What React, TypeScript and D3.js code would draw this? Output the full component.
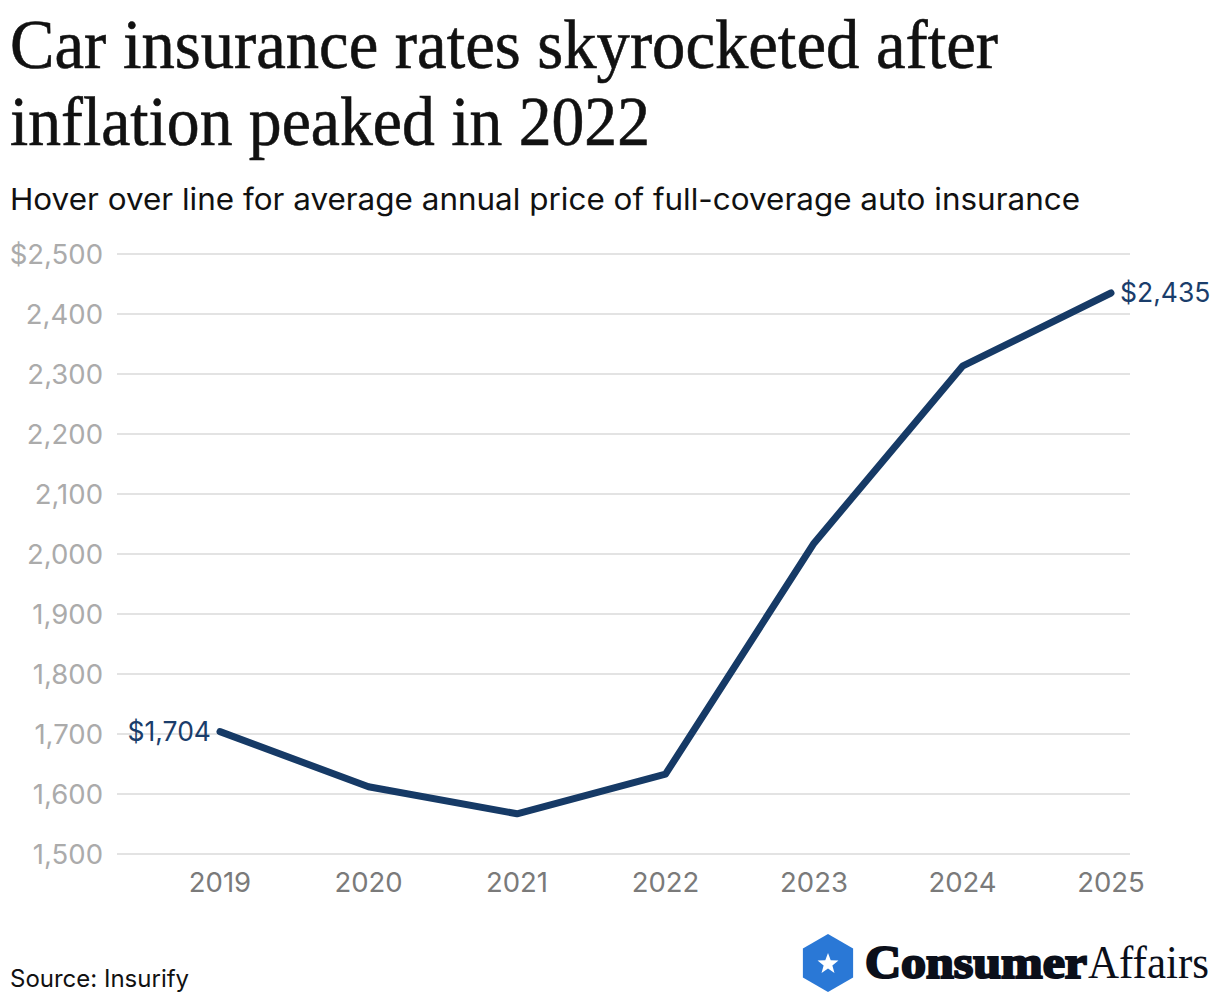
import React from "react";
import * as d3 from "d3";

const years = [2019, 2020, 2021, 2022, 2023, 2024, 2025];
const prices = [1704, 1612, 1567, 1633, 2018, 2313, 2435];
const yTicks = [1500, 1600, 1700, 1800, 1900, 2000, 2100, 2200, 2300, 2400, 2500];
const titleLines = ["Car insurance rates skyrocketed after", "inflation peaked in 2022"];
const subtitle = "Hover over line for average annual price of full-coverage auto insurance";
const source = "Source: Insurify";

const W = 1220;
const H = 1004;
const SANS = "Inter, 'Noto Sans', Roboto, sans-serif";
const SERIF = "'Liberation Serif', 'DejaVu Serif', serif";

export default function App() {
  const x = d3.scalePoint<number>().domain(years).range([220, 1111]);
  const y = d3.scaleLinear().domain([1500, 2500]).range([854, 254]);
  const line = d3
    .line<number>()
    .x((_, i) => x(years[i]) as number)
    .y((d) => y(d));
  const fmt = d3.format(",");
  const n = years.length;

  const hx = 828, hy = 963, hr = 29;
  const hex = d3.range(6).map((i) => {
    const a = (Math.PI / 3) * i + Math.PI / 6;
    return [hx + hr * Math.cos(a), hy + hr * Math.sin(a)];
  });
  const star = d3.range(10).map((i) => {
    const r = i % 2 === 0 ? 11 : 4.6;
    const a = (Math.PI / 5) * i - Math.PI / 2;
    return [hx + r * Math.cos(a), hy + 1 + r * Math.sin(a)];
  });

  return (
    <svg
      width={W}
      height={H}
      viewBox={`0 0 ${W} ${H}`}
      style={{ position: "absolute", left: 0, top: 0, background: "#fff" }}
    >
      <rect width={W} height={H} fill="#fff" />
      {titleLines.map((t, i) => (
        <text
          key={i}
          x={10}
          y={68 + i * 77}
          fontFamily={SERIF}
          fontSize={69}
          fill="#111"
          stroke="#111"
          strokeWidth={0.6}
          textLength={i === 0 ? 988 : 640}
          lengthAdjust="spacingAndGlyphs"
        >
          {t}
        </text>
      ))}
      <text
        x={10}
        y={210}
        fontFamily={SANS}
        fontSize={30}
        fill="#111"
        textLength={1070}
        lengthAdjust="spacingAndGlyphs"
      >
        {subtitle}
      </text>

      {yTicks.map((t) => (
        <g key={t}>
          <line x1={117} x2={1130} y1={y(t)} y2={y(t)} stroke="#e3e3e3" strokeWidth={2} />
          <text
            x={103}
            y={y(t)}
            dy="0.35em"
            textAnchor="end"
            fontFamily={SANS}
            fontSize={27.5}
            fill="#ababab"
          >
            {t === 2500 ? "$" + fmt(t) : fmt(t)}
          </text>
        </g>
      ))}

      {years.map((yr) => (
        <text
          key={yr}
          x={x(yr)}
          y={892}
          textAnchor="middle"
          fontFamily={SANS}
          fontSize={27.5}
          fill="#7a7a7a"
        >
          {yr}
        </text>
      ))}

      <path
        d={line(prices) || ""}
        fill="none"
        stroke="#163a66"
        strokeWidth={7}
        strokeLinecap="round"
        strokeLinejoin="round"
      />

      <text
        x={(x(years[0]) as number) - 9}
        y={y(prices[0])}
        dy="0.35em"
        textAnchor="end"
        fontFamily={SANS}
        fontSize={26.5}
        fill="#1a3d6b"
      >
        {"$" + fmt(prices[0])}
      </text>
      <text
        x={(x(years[n - 1]) as number) + 9}
        y={y(prices[n - 1])}
        dy="0.35em"
        textAnchor="start"
        fontFamily={SANS}
        fontSize={26.5}
        fill="#1a3d6b"
      >
        {"$" + fmt(prices[n - 1])}
      </text>

      <text x={10} y={987} fontFamily={SANS} fontSize={24} fill="#111">
        {source}
      </text>

      <polygon points={hex.map((p) => p.join(",")).join(" ")} fill="#2a78d6" />
      <polygon points={star.map((p) => p.join(",")).join(" ")} fill="#fff" />
      <text x={865} y={978} fontFamily={SERIF} fontSize={46} fill="#0b0f1a">
        <tspan fontWeight={900} stroke="#0b0f1a" strokeWidth={2.2} textLength={222} lengthAdjust="spacingAndGlyphs">Consumer</tspan>
        <tspan fontWeight={400} x={1088} textLength={121} lengthAdjust="spacingAndGlyphs">Affairs</tspan>
      </text>
    </svg>
  );
}
